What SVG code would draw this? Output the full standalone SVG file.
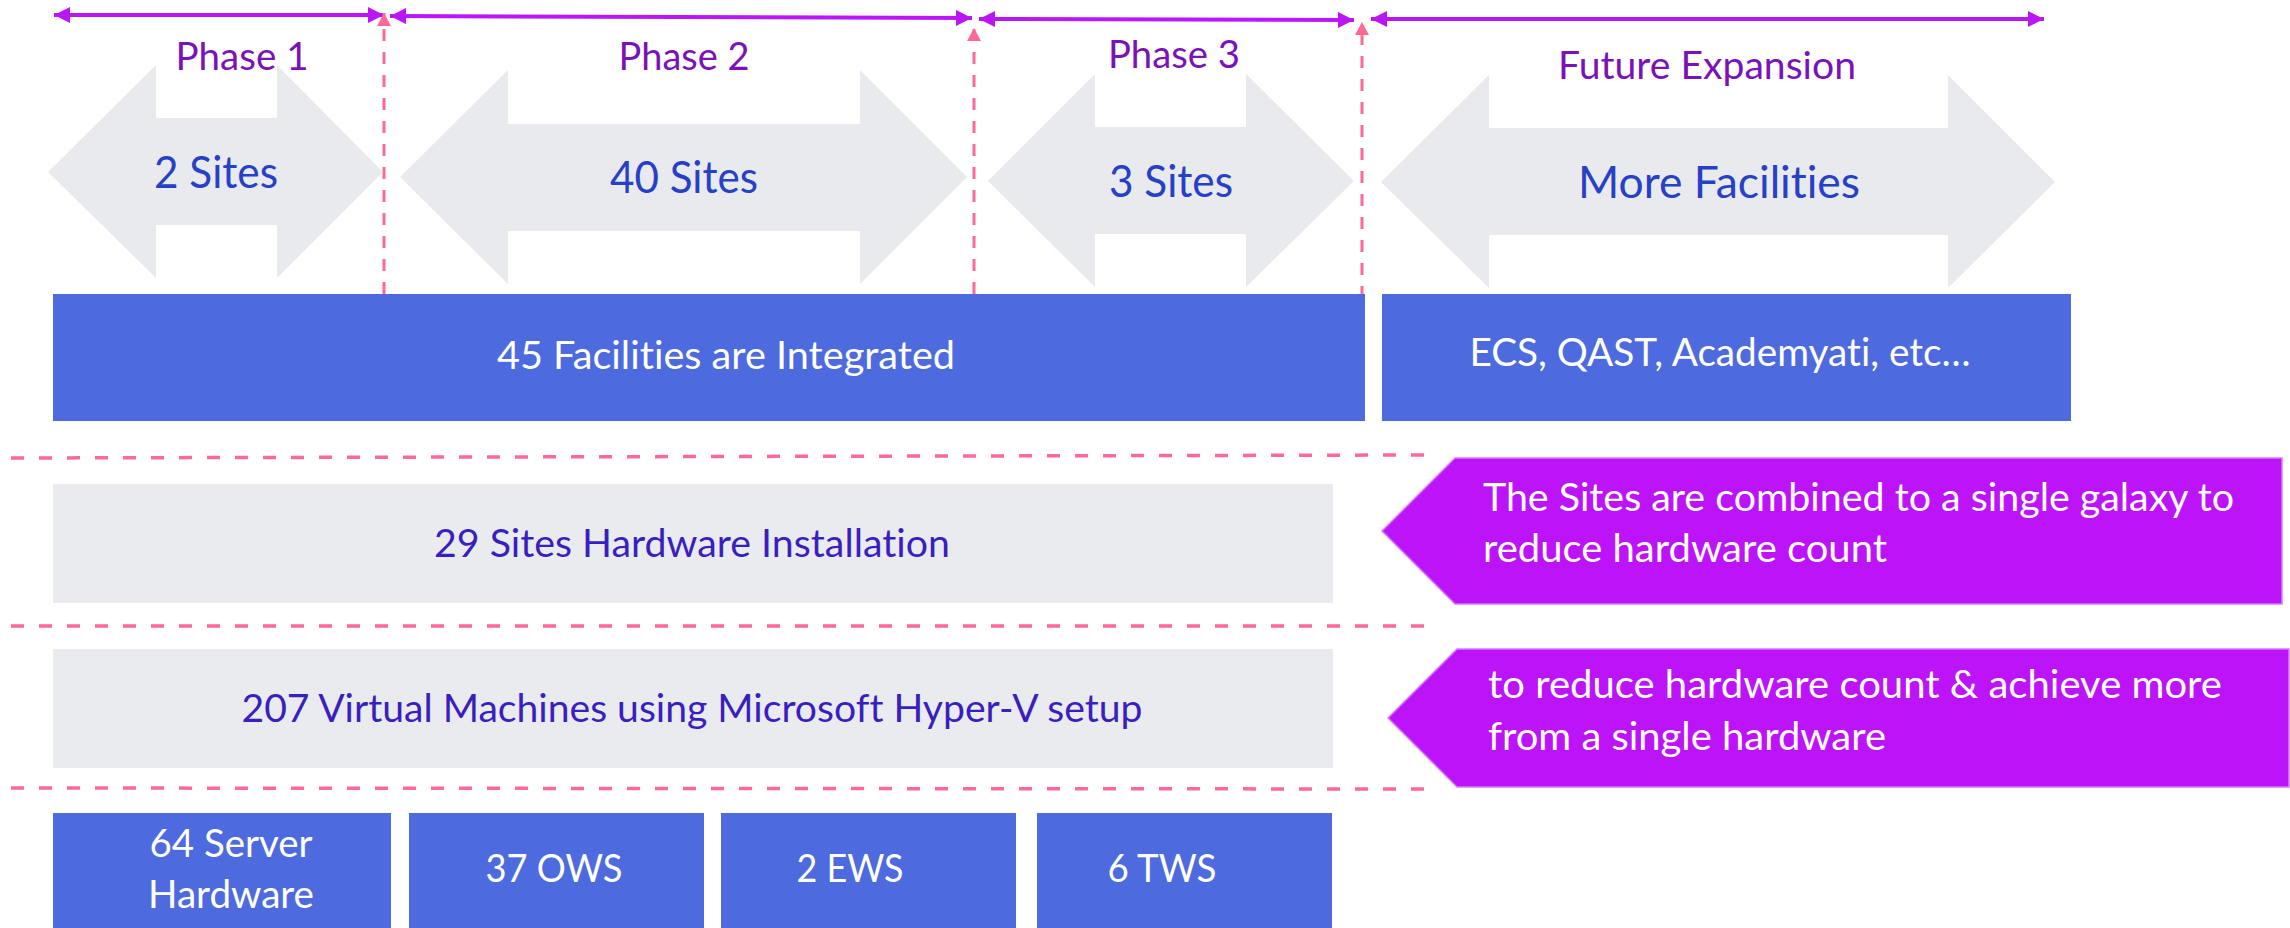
<svg xmlns="http://www.w3.org/2000/svg" width="2290" height="928" viewBox="0 0 2290 928">
  <style>
    text { font-family: Lato, "Open Sans", "Liberation Sans", sans-serif; font-variant-ligatures: none; }
    .phase { fill: #7A12B8; font-size: 39.5px; text-anchor: middle; }
    .sites { fill: #2640C6; font-size: 44.5px; text-anchor: middle; }
    .white { fill: #FFFFFF; font-size: 38px; }
    .mid { text-anchor: middle; }
    .rowtxt { fill: #3A1FBF; font-size: 39px; text-anchor: middle; }
    .garrow { fill: #E9EAEE; }
    .bar { fill: #4D6ADF; }
    .row { fill: #EAEBEF; }
    .callout { fill: #BD13F8; stroke: #D77BFB; stroke-width: 1.5; }
    .span { stroke: #BB16F7; stroke-width: 4; fill: none; marker-start: url(#pArrow); marker-end: url(#pArrow); }
    .vdash { stroke: #FD6A98; stroke-width: 3; stroke-dasharray: 12 11; fill: none; marker-end: url(#kArrow); }
    .hdash { stroke: #FD6A98; stroke-width: 3.5; stroke-dasharray: 13 15; fill: none; }
  </style>
  <defs>
    <marker id="pArrow" markerUnits="userSpaceOnUse" markerWidth="16" markerHeight="16" refX="16" refY="8" orient="auto-start-reverse">
      <path d="M0,0 L16,8 L0,16 Z" fill="#BB16F7"/>
    </marker>
    <marker id="kArrow" markerUnits="userSpaceOnUse" markerWidth="14" markerHeight="14" refX="13" refY="7" orient="auto">
      <path d="M0,0 L13,7 L0,14 Z" fill="#FD6A98"/>
    </marker>
  </defs>

  <!-- phase spans and separators -->
  <g id="connectors">
    <line class="span" x1="54" y1="15" x2="384" y2="15"/>
    <line class="span" x1="390" y1="16" x2="972" y2="18"/>
    <line class="span" x1="979" y1="19" x2="1354" y2="20"/>
    <line class="span" x1="1371" y1="19" x2="2044" y2="19"/>
    <line class="vdash" x1="384" y1="294" x2="384" y2="13"/>
    <line class="vdash" x1="974" y1="294" x2="974" y2="28"/>
    <line class="vdash" x1="1362" y1="298" x2="1362" y2="22"/>
    <line class="hdash" x1="11" y1="458" x2="1425" y2="455"/>
    <line class="hdash" x1="11" y1="626" x2="1426" y2="626"/>
    <line class="hdash" x1="11" y1="788" x2="1426" y2="789"/>
  </g>

  <!-- phase labels -->
  <g id="phase1"><text class="phase" x="242" y="70" textLength="133" lengthAdjust="spacingAndGlyphs">Phase 1</text></g>
  <g id="phase2"><text class="phase" x="684" y="70" textLength="131" lengthAdjust="spacingAndGlyphs">Phase 2</text></g>
  <g id="phase3"><text class="phase" x="1174" y="68" textLength="132" lengthAdjust="spacingAndGlyphs">Phase 3</text></g>
  <g id="future"><text class="phase" x="1707" y="79" textLength="298" lengthAdjust="spacingAndGlyphs">Future Expansion</text></g>

  <!-- double-headed site arrows -->
  <g id="sites1">
    <polygon class="garrow" points="48,172 156,65 156,118 277,118 277,65 383,172 277,278 277,225 156,225 156,278"/>
    <text class="sites" x="216" y="188" textLength="124" lengthAdjust="spacingAndGlyphs">2 Sites</text>
  </g>
  <g id="sites2">
    <polygon class="garrow" points="400,177 508,70 508,124 860,124 860,70 967,177 860,284 860,231 508,231 508,284"/>
    <text class="sites" x="684" y="193" textLength="148" lengthAdjust="spacingAndGlyphs">40 Sites</text>
  </g>
  <g id="sites3">
    <polygon class="garrow" points="988,181 1095,74 1095,127 1246,127 1246,74 1354,181 1246,287 1246,234 1095,234 1095,287"/>
    <text class="sites" x="1171" y="197" textLength="124" lengthAdjust="spacingAndGlyphs">3 Sites</text>
  </g>
  <g id="sites4">
    <polygon class="garrow" points="1381,182 1489,75 1489,128 1948,128 1948,75 2055,182 1948,288 1948,235 1489,235 1489,288"/>
    <text class="sites" x="1719" y="198" textLength="282" lengthAdjust="spacingAndGlyphs">More Facilities</text>
  </g>

  <!-- facility bars -->
  <g id="integrated">
    <rect class="bar" x="53" y="294" width="1312" height="127"/>
    <text class="white mid" x="726" y="369" textLength="458" lengthAdjust="spacingAndGlyphs">45 Facilities are Integrated</text>
  </g>
  <g id="expansion">
    <rect class="bar" x="1382" y="294" width="689" height="127"/>
    <text class="white mid" x="1720" y="366" textLength="501" lengthAdjust="spacingAndGlyphs">ECS, QAST, Academyati, etc…</text>
  </g>

  <!-- hardware rows -->
  <g id="hardware">
    <rect class="row" x="53" y="484" width="1280" height="119"/>
    <text class="rowtxt" x="692" y="557" textLength="516" lengthAdjust="spacingAndGlyphs">29 Sites Hardware Installation</text>
  </g>
  <g id="virtual">
    <rect class="row" x="53" y="649" width="1280" height="119"/>
    <text class="rowtxt" x="692" y="722" textLength="901" lengthAdjust="spacingAndGlyphs">207 Virtual Machines using Microsoft Hyper-V setup</text>
  </g>

  <!-- callouts -->
  <g id="note1">
    <polygon class="callout" points="1455,458 2282,458 2282,604 1455,604 1382,531"/>
    <text class="white" x="1483" y="511" textLength="751" lengthAdjust="spacingAndGlyphs">The Sites are combined to a single galaxy to</text>
    <text class="white" x="1483" y="562" textLength="404" lengthAdjust="spacingAndGlyphs">reduce hardware count</text>
  </g>
  <g id="note2">
    <polygon class="callout" points="1457,649 2289,649 2289,787 1457,787 1388,718"/>
    <text class="white" x="1488" y="698" textLength="734" lengthAdjust="spacingAndGlyphs">to reduce hardware count &amp; achieve more</text>
    <text class="white" x="1488" y="750" textLength="398" lengthAdjust="spacingAndGlyphs">from a single hardware</text>
  </g>

  <!-- hardware breakdown -->
  <g id="servers">
    <rect class="bar" x="53" y="813" width="338" height="115"/>
    <text class="white mid" x="231" y="857" textLength="163" lengthAdjust="spacingAndGlyphs">64 Server</text>
    <text class="white mid" x="231" y="908" textLength="166" lengthAdjust="spacingAndGlyphs">Hardware</text>
  </g>
  <g id="ows">
    <rect class="bar" x="409" y="813" width="295" height="115"/>
    <text class="white mid" x="554" y="882" textLength="137" lengthAdjust="spacingAndGlyphs">37 OWS</text>
  </g>
  <g id="ews">
    <rect class="bar" x="721" y="813" width="295" height="115"/>
    <text class="white mid" x="850" y="882" textLength="107" lengthAdjust="spacingAndGlyphs">2 EWS</text>
  </g>
  <g id="tws">
    <rect class="bar" x="1037" y="813" width="295" height="115"/>
    <text class="white mid" x="1162" y="882" textLength="109" lengthAdjust="spacingAndGlyphs">6 TWS</text>
  </g>
</svg>
